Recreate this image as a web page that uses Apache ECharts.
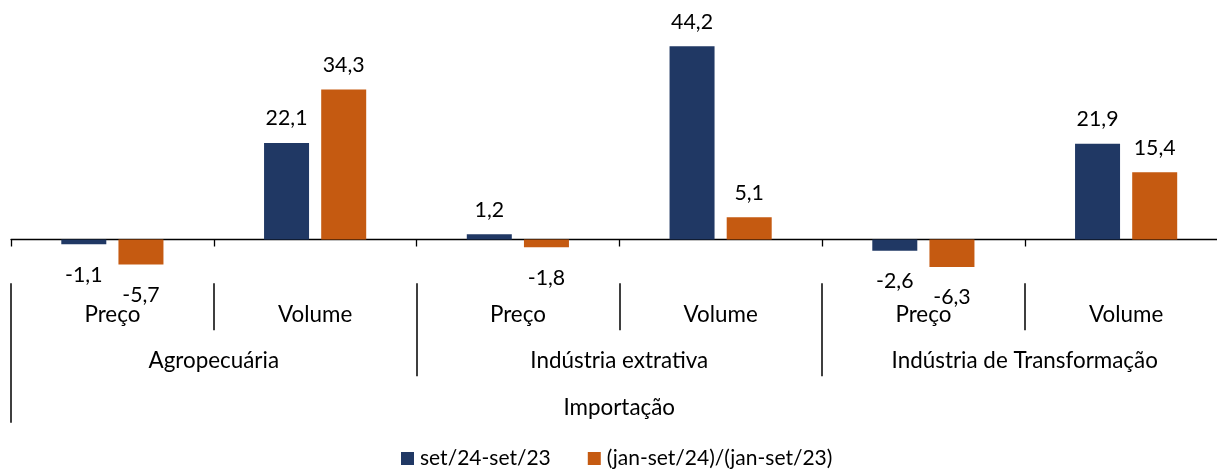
<!DOCTYPE html>
<html><head><meta charset="utf-8">
<script src="https://cdn.jsdelivr.net/npm/echarts@6/dist/echarts.min.js"></script>
<style>html,body{margin:0;padding:0;background:#fff}#c{width:1217px;height:471px}</style>
</head><body><div id="c"></div>
<script>
const categories = ['Preço', 'Volume', 'Preço', 'Volume', 'Preço', 'Volume'];
const groups = ['Agropecuária', 'Indústria extrativa', 'Indústria de Transformação'];
const topLevel = ['Importação'];
const seriesNames = ['set/24-set/23', '(jan-set/24)/(jan-set/23)'];
const monthly = [-1.1, 22.1, 1.2, 44.2, -2.6, 21.9];
const ytd = [-5.7, 34.3, -1.8, 5.1, -6.3, 15.4];

const FONT = 'Lato';
const FS_AXIS = 22.4;
const FS_LABEL = 21.3;
const FS_LEGEND = 21;
const BLUE = '#203864';
const ORANGE = '#C55A11';

function fmt(p) { return p.value.toFixed(1).replace('.', ','); }
function toData(arr) {
  return arr.map(v => ({ value: v, label: { distance: v < 0 ? 20 : 14 } }));
}
function levelAxis(data, tickLen, margin) {
  return {
    type: 'category', data: data, position: 'bottom', gridIndex: 0,
    axisLine: { show: false, onZero: false },
    axisTick: { show: true, interval: 0, length: tickLen, lineStyle: { color: '#000', width: 1.5 } },
    axisLabel: { show: true, interval: 0, margin: margin, color: '#000', fontFamily: FONT, fontSize: FS_AXIS },
    splitLine: { show: false }
  };
}

const chart = echarts.init(document.getElementById('c'), null, { renderer: 'canvas' });
chart.setOption({
  animation: false,
  backgroundColor: '#fff',
  grid: { left: 11, top: 21, width: 1216.5, height: 262.2, containLabel: false, outerBoundsMode: 'none' },
  legend: {
    data: seriesNames, left: 401, top: 448, padding: 0,
    itemWidth: 13, itemHeight: 13, itemGap: 37,
    icon: 'rect',
    textStyle: { color: '#000', fontFamily: FONT, fontSize: FS_LEGEND, padding: [0, 0, 0, 1] }
  },
  xAxis: [
    {
      type: 'category', data: categories, gridIndex: 0,
      axisLine: { show: true, onZero: true, lineStyle: { color: '#000', width: 1.3 } },
      axisTick: { show: true, interval: 0, length: 7, lineStyle: { color: '#000', width: 1.3 } },
      axisLabel: { show: false },
      splitLine: { show: false }
    },
    levelAxis(categories, 47, 20.5),
    levelAxis(groups, 93, 66.5),
    levelAxis(topLevel, 139.5, 113.5)
  ],
  yAxis: {
    type: 'value', min: -10, max: 50, interval: 10,
    axisLine: { show: false }, axisTick: { show: false },
    axisLabel: { show: false }, splitLine: { show: false }
  },
  series: [
    {
      name: seriesNames[0], type: 'bar', data: toData(monthly),
      barWidth: 45, barGap: '27%',
      itemStyle: { color: BLUE },
      label: { show: true, position: 'outside', formatter: fmt, color: '#000', fontFamily: FONT, fontSize: FS_LABEL }
    },
    {
      name: seriesNames[1], type: 'bar', data: toData(ytd),
      barWidth: 45, barGap: '27%',
      itemStyle: { color: ORANGE },
      label: { show: true, position: 'outside', formatter: fmt, color: '#000', fontFamily: FONT, fontSize: FS_LABEL }
    }
  ]
});
</script></body></html>
